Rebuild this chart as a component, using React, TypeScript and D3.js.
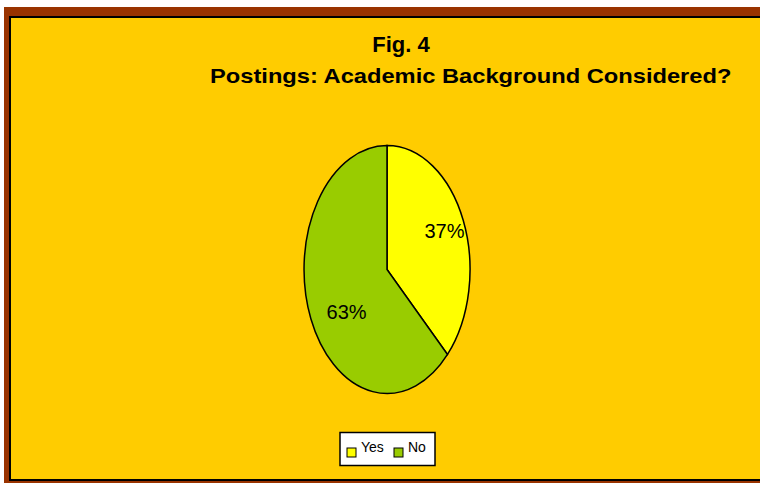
import { useEffect, useRef } from "react"
import * as d3 from "d3"

const categories = ["Yes", "No"]
const values = [37, 63]
const sliceColors = ["#FFFF00", "#99CC00"]
const titleLines = ["Fig. 4", "Postings: Academic Background Considered?"]

export default function App() {
  const svgRef = useRef<SVGSVGElement>(null)

  useEffect(() => {
    if (!svgRef.current) return
    const root = d3.select(svgRef.current)
    root.selectAll("*").remove()

    const width = 760
    const height = 483

    // outer frame
    root.append("rect").attr("x", 0).attr("y", 0).attr("width", width).attr("height", height).attr("fill", "#fff")
    root.append("rect").attr("x", 4).attr("y", 7).attr("width", width - 4).attr("height", height - 7).attr("fill", "#993300")
    root.append("rect").attr("x", 10).attr("y", 17).attr("width", width + 10).attr("height", 463)
      .attr("fill", "#FFCC00").attr("stroke", "#000").attr("stroke-width", 2)

    // titles
    root.append("text").attr("x", 401).attr("y", 52).attr("text-anchor", "middle")
      .style("font-family", "Liberation Sans, Arial, sans-serif").style("font-weight", "bold")
      .style("font-size", "22px").text(titleLines[0])
    // second line is drawn a bit wider than the font's natural width
    root.append("text").attr("x", 0).attr("y", 0)
      .attr("transform", "translate(210,83) scale(1.185,1)")
      .style("font-family", "Liberation Sans, Arial, sans-serif").style("font-weight", "bold")
      .style("font-size", "20px").text(titleLines[1])

    // pie drawn in unit coords, stretched into an ellipse
    const cx = 387, cy = 269.5, rx = 83, ry = 124
    const data = categories.map((c, i) => ({ cat: c, value: values[i] }))
    const pie = d3.pie<{ cat: string; value: number }>().sort(null).value((d) => d.value)
    const arcs = pie(data)
    const arc = d3.arc<d3.PieArcDatum<{ cat: string; value: number }>>().innerRadius(0).outerRadius(1)

    const g = root.append("g").attr("transform", `translate(${cx},${cy}) scale(${rx},${ry})`)
    g.selectAll("path").data(arcs).enter().append("path")
      .attr("d", arc)
      .attr("fill", (_, i) => sliceColors[i])
      .attr("stroke", "#000").attr("stroke-width", 1.5)
      .attr("vector-effect", "non-scaling-stroke")

    // percent labels
    const total = d3.sum(values)
    const labelArc = d3.arc<d3.PieArcDatum<{ cat: string; value: number }>>().innerRadius(0.78).outerRadius(0.78)
    const nudge = [[-2, 0], [19, 4]]
    root.selectAll(".pct").data(arcs).enter().append("text")
      .attr("class", "pct")
      .attr("text-anchor", "middle")
      .attr("x", (d, i) => {
        const [ux] = labelArc.centroid(d)
        return cx + ux * rx + nudge[i][0]
      })
      .attr("y", (d, i) => {
        const [, uy] = labelArc.centroid(d)
        return cy + uy * ry + 7 + nudge[i][1]
      })
      .style("font-family", "Liberation Sans, Arial, sans-serif")
      .style("font-size", "20px")
      .text((d) => `${Math.round((d.data.value / total) * 100)}%`)

    // legend
    const lg = root.append("g")
    lg.append("rect").attr("x", 340).attr("y", 432.5).attr("width", 95).attr("height", 33)
      .attr("fill", "#fff").attr("stroke", "#000").attr("stroke-width", 1.5)
    const lx = d3.scaleOrdinal<string, number>().domain(categories).range([347, 394])
    categories.forEach((c, i) => {
      lg.append("rect").attr("x", lx(c)).attr("y", 448).attr("width", 9).attr("height", 9)
        .attr("fill", sliceColors[i]).attr("stroke", "#000").attr("stroke-width", 1)
      lg.append("text").attr("x", lx(c) + 14).attr("y", 452)
        .style("font-family", "Liberation Sans, Arial, sans-serif")
        .style("font-size", "14px").text(c)
    })
  }, [])

  return (
    <svg
      ref={svgRef}
      width={760}
      height={483}
      style={{ position: "absolute", left: 0, top: 0 }}
    />
  )
}
